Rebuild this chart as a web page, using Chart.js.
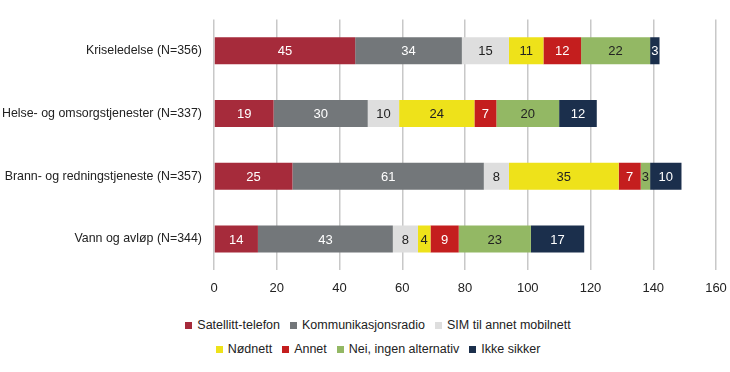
<!DOCTYPE html>
<html>
<head>
<meta charset="utf-8">
<script src="https://cdn.jsdelivr.net/npm/chart.js@4"></script>
<style>
    body { margin: 0; background: #fff; font-family: "Liberation Sans", Arial, sans-serif; }
    #wrap { position: relative; width: 730px; height: 306px; }
    #legend { width: 704px; padding-left: 26px; font-size: 12.5px; color: #222; margin-top: 7px; }
    .row { display: flex; justify-content: center; height: 24px; align-items: center; }
    .item { display: flex; align-items: center; margin: 0 5px; }
    .box { width: 7px; height: 7px; margin-right: 5px; }
</style>
</head>
<body>
<div id="wrap"><canvas id="myChart"></canvas></div>
<div id="legend"></div>
<script>
const categories = ['Kriseledelse (N=356)', 'Helse- og omsorgstjenester (N=337)', 'Brann- og redningstjeneste (N=357)', 'Vann og avløp (N=344)'];
const seriesNames = ['Satellitt-telefon', 'Kommunikasjonsradio', 'SIM til annet mobilnett', 'Nødnett', 'Annet', 'Nei, ingen alternativ', 'Ikke sikker'];
const satellitt = [45, 19, 25, 14];
const radio = [34, 30, 61, 43];
const sim = [15, 10, 8, 8];
const nodnett = [11, 24, 35, 4];
const annet = [12, 7, 7, 9];
const nei = [22, 20, 3, 23];
const ikkeSikker = [3, 12, 10, 17];
const xTicks = [0, 20, 40, 60, 80, 100, 120, 140, 160];

const colors = ['#A62B3B', '#73777A', '#DEDEDE', '#EEE21A', '#C41E1E', '#93B864', '#1B2F4C'];
const labelColors = ['#fff', '#fff', '#222', '#222', '#fff', '#222', '#fff'];
const values = [satellitt, radio, sim, nodnett, annet, nei, ikkeSikker];
const fontFamily = '"Liberation Sans", Arial, sans-serif';

// tall midt i hvert segment
const valueLabels = {
    id: 'valueLabels',
    afterDatasetsDraw(chart) {
        const ctx = chart.ctx;
        ctx.save();
        ctx.font = '13px ' + fontFamily;
        ctx.textAlign = 'center';
        ctx.textBaseline = 'middle';
        chart.data.datasets.forEach((ds, i) => {
            chart.getDatasetMeta(i).data.forEach((bar, j) => {
                ctx.fillStyle = labelColors[i];
                const x = (bar.x + bar.base) / 2;
                ctx.fillText(ds.data[j], x, bar.y + 1);
            });
        });
        ctx.restore();
    }
};

var ctx = document.getElementById('myChart').getContext('2d');
var myChart = new Chart(ctx, {
    type: 'bar',
    data: {
        labels: categories,
        datasets: seriesNames.map((name, i) => ({
            label: name,
            data: values[i],
            backgroundColor: colors[i],
            borderWidth: 0,
            categoryPercentage: 0.8,
            barPercentage: 0.54
        }))
    },
    options: {
        indexAxis: 'y',
        responsive: true,
        maintainAspectRatio: false,
        animation: false,
        layout: { padding: { top: 14, right: 14, left: 0, bottom: 0 } },
        plugins: {
            legend: { display: false },
            tooltip: { enabled: false }
        },
        scales: {
            x: {
                stacked: true,
                min: 0,
                max: 160,
                afterBuildTicks: scale => { scale.ticks = xTicks.map(v => ({ value: v })); },
                afterFit: scale => { scale.paddingRight = 0; scale.paddingLeft = 0; },
                grid: { color: '#C8C8C8', lineWidth: 1.5, drawTicks: false },
                border: { display: false },
                ticks: { color: '#222', padding: 10, font: { size: 13, family: fontFamily } }
            },
            y: {
                stacked: true,
                grid: { display: false, tickLength: 0 },
                border: { display: false },
                afterFit: scale => { scale.width = 214; },
                ticks: { color: '#222', padding: 12, font: { size: 12.4, family: fontFamily } }
            }
        }
    },
    plugins: [valueLabels]
});

// legende i to rader som i originalen
const legend = document.getElementById('legend');
[[0, 1, 2], [3, 4, 5, 6]].forEach(row => {
    const r = document.createElement('div');
    r.className = 'row';
    row.forEach(i => {
        const it = document.createElement('div');
        it.className = 'item';
        it.innerHTML = '<span class="box" style="background:' + colors[i] + '"></span>' + seriesNames[i];
        r.appendChild(it);
    });
    legend.appendChild(r);
});
</script>
</body>
</html>
